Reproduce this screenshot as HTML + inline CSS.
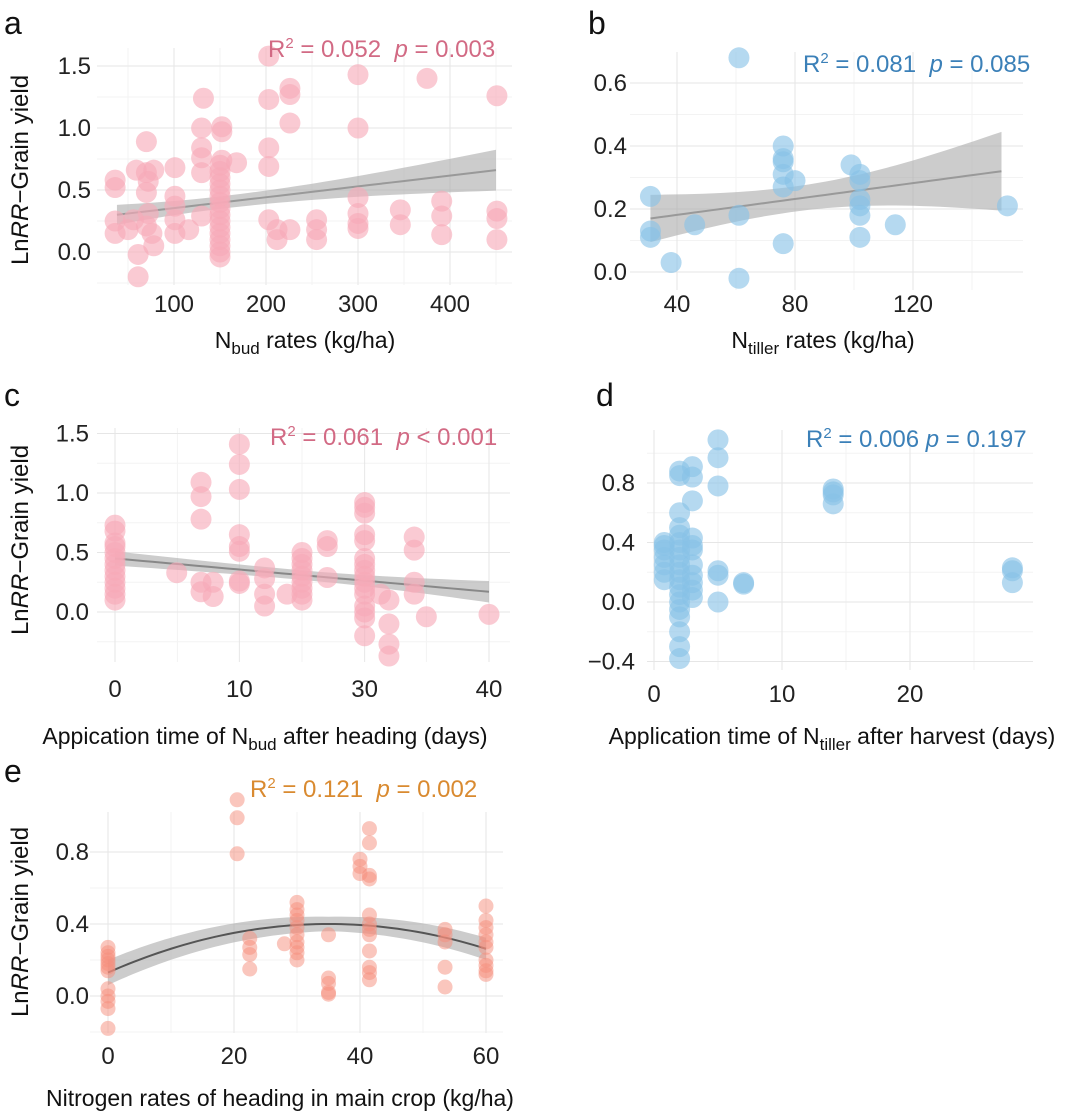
<!DOCTYPE html>
<html><head><meta charset="utf-8"><style>
body{margin:0;background:#fff;}
svg{display:block;font-family:"Liberation Sans",Arial,sans-serif;}
</style></head><body>
<svg id="fig" width="1080" height="1113" viewBox="0 0 1080 1113"></svg>
<script>
// ---- Panel a data ----
const aX=[36,36,36,36,50,61,61,59,70,70,72,78,70,72,70,76,78,56,101,101,101,101,101,116,132,130,130,130,130,130,152,152,152,168,150,150,150,150,150,150,150,150,150,150,150,150,150,150,150,150,203,203,203,203,203,212,212,226,226,226,226,255,255,255,300,300,300,300,300,300,346,346,375,391,391,391,451,451,451,451];
const aY=[0.58,0.52,0.25,0.15,0.18,-0.02,-0.2,0.66,0.89,0.64,0.57,0.66,0.48,0.31,0.21,0.15,0.05,0.26,0.68,0.45,0.37,0.26,0.15,0.18,1.24,1.0,0.84,0.76,0.64,0.29,1.01,0.97,0.74,0.72,0.6,0.55,0.5,0.45,0.4,0.35,0.3,0.25,0.2,0.15,0.1,0.05,0.0,0.65,0.7,-0.04,1.58,1.23,0.84,0.69,0.26,0.18,0.1,1.32,1.27,1.04,0.18,0.26,0.18,0.1,1.43,1.0,0.44,0.31,0.23,0.19,0.34,0.22,1.40,0.41,0.29,0.14,1.26,0.33,0.27,0.10];
const aXTicks=[100,200,300,400];
const aYTicks=[0,0.5,1.0,1.5];
const aFit=[[38,0.30,0.22,0.38],[150,0.39,0.34,0.44],[450,0.66,0.50,0.83]];
// ---- Panel b data ----
const bX=[61,61,61,31,31,31,38,46,76,76,76,76,76,80,76,99,102,102,102,102,102,102,114,152];
const bY=[0.68,-0.02,0.18,0.24,0.13,0.11,0.03,0.15,0.40,0.36,0.35,0.31,0.27,0.29,0.09,0.34,0.31,0.29,0.23,0.21,0.18,0.11,0.15,0.21];
const bXTicks=[40,80,120];
const bYTicks=[0,0.2,0.4,0.6];
const bFit=[[31,0.17,0.10,0.25],[80,0.23,0.19,0.27],[150,0.32,0.20,0.45]];
// ---- Panel c data ----
const cX=[0,0,0,0,0,0,0,0,0,0,0,0,0,6.6,9.2,9.2,9.2,9.2,9.2,10.5,10.5,13.3,13.3,13.3,13.3,13.3,13.3,13.3,13.3,16,16,16,16,18.4,20,20,20,20,20,20,20,20,20,22.7,22.7,22.7,26.7,26.7,26.7,26.7,26.7,26.7,26.7,26.7,26.7,26.7,26.7,26.7,26.7,26.7,26.7,26.7,28.4,29.3,29.3,29.3,29.3,32,32,32,32,33.3,40];
const cY=[0.73,0.68,0.58,0.55,0.5,0.45,0.4,0.35,0.3,0.25,0.2,0.15,0.1,0.33,1.09,0.97,0.78,0.25,0.17,0.25,0.13,1.41,1.24,1.03,0.65,0.55,0.51,0.26,0.24,0.37,0.28,0.15,0.05,0.15,0.5,0.45,0.4,0.35,0.3,0.25,0.2,0.15,0.1,0.6,0.55,0.29,0.92,0.88,0.83,0.65,0.6,0.45,0.4,0.35,0.3,0.25,0.2,0.15,0.05,0,-0.05,-0.2,0.15,0.1,-0.1,-0.27,-0.37,0.63,0.52,0.25,0.15,-0.04,-0.02];
const cXTickVals=[0,13.3,26.7,40];
const cXTickLabels=["0","10","30","40"];
const cYTicks=[0,0.5,1.0,1.5];
const cFit=[[0,0.45,0.40,0.52],[20,0.31,0.27,0.35],[40,0.17,0.08,0.26]];
// ---- Panel d data ----
const dX=[0.8,0.8,0.8,0.8,0.8,0.8,0.8,2,2,2,2,2,2,2,2,2,2,2,2,2,2,2,2,2,2,2,3,3,3,3,3,3,3,3,3,3,3,5,5,5,5,5,5,7,7,14,14,14,14,28,28,28];
const dY=[0.4,0.35,0.3,0.25,0.2,0.15,0.38,0.88,0.85,0.6,0.5,0.45,0.4,0.35,0.3,0.25,0.2,0.15,0.1,0.05,0,-0.05,-0.1,-0.2,-0.3,-0.38,0.91,0.84,0.68,0.43,0.38,0.35,0.25,0.18,0.13,0.08,0.03,1.09,0.97,0.78,0.21,0.18,0.0,0.12,0.13,0.76,0.74,0.72,0.66,0.23,0.21,0.13];
const dXTicks=[0,10,20];
const dYTicks=[-0.4,0,0.4,0.8];
// ---- Panel e data ----
const eX=[0,0,0,0,0,0,0,0,0,0,0,0,20.5,20.5,20.5,22.5,22.5,22.5,22.5,28,30,30,30,30,30,30,30,30,30,30,35,35,35,35,35,40,40,40,41.5,41.5,41.5,41.5,41.5,41.5,41.5,41.5,41.5,41.5,41.5,41.5,53.5,53.5,53.5,53.5,53.5,60,60,60,60,60,60,60,60,60,60];
const eY=[0.27,0.24,0.22,0.2,0.18,0.16,0.14,0.04,0.0,-0.03,-0.07,-0.18,1.09,0.99,0.79,0.32,0.27,0.23,0.15,0.29,0.52,0.48,0.45,0.42,0.38,0.34,0.3,0.27,0.24,0.2,0.34,0.1,0.07,0.02,0.01,0.76,0.72,0.68,0.93,0.85,0.67,0.65,0.45,0.4,0.37,0.34,0.25,0.16,0.13,0.09,0.37,0.34,0.3,0.16,0.05,0.5,0.42,0.38,0.34,0.3,0.27,0.2,0.17,0.14,0.12];
const eXTicks=[0,20,40,60];
const eYTicks=[0,0.4,0.8];
const eFitPeak=[35,0.40];
const eFitK=0.00022;

const NS="http://www.w3.org/2000/svg";
const svg=document.getElementById('fig');
function mk(tag,attrs,parent){const e=document.createElementNS(NS,tag);for(const k in attrs)e.setAttribute(k,attrs[k]);(parent||svg).appendChild(e);return e;}
function lin(d0,d1,r0,r1){return v=>r0+(v-d0)*(r1-r0)/(d1-d0);}

function panel(o){
  const g=mk('g',{});
  
  
  o.xMinor.forEach(v=>{const l=mk('line',{x1:o.sx(v),x2:o.sx(v),y1:o.top,y2:o.bot,stroke:'#f3f3f3','stroke-width':1},g);});
  o.yMinor.forEach(v=>{const l=mk('line',{x1:o.left,x2:o.right,y1:o.sy(v),y2:o.sy(v),stroke:'#f3f3f3','stroke-width':1},g);});
  o.xTickVals.forEach(v=>{const l=mk('line',{x1:o.sx(v),x2:o.sx(v),y1:o.top,y2:o.bot,stroke:'#e6e6e6','stroke-width':1},g);});
  o.yTicks.forEach(v=>{const l=mk('line',{x1:o.left,x2:o.right,y1:o.sy(v),y2:o.sy(v),stroke:'#e6e6e6','stroke-width':1},g);});
  o.xTickVals.forEach((v,i)=>{const t=mk('text',{x:o.sx(v),y:o.xLabY,'text-anchor':'middle','font-size':24,fill:'#222'},g);t.textContent=o.xTickLabels[i];});
  o.yTicks.forEach(v=>{const t=mk('text',{x:o.yLabX,y:o.sy(v)+8,'text-anchor':'end','font-size':24,fill:'#222'},g);t.textContent=(v<0?'\u2212':'')+Math.abs(v).toFixed(1);});
  if(o.band){
    let up='';
    o.band.forEach((p,i)=>{up+=(i?'L':'M')+o.sx(p[0])+','+o.sy(p[2]);});
    for(let i=o.band.length-1;i>=0;i--){const p=o.band[i];up+='L'+o.sx(p[0])+','+o.sy(p[3]);}
    const b=mk('path',{d:up+'Z',fill:'#aaaaaa','fill-opacity':0.6},g);
    let ln='';o.band.forEach((p,i)=>{ln+=(i?'L':'M')+o.sx(p[0])+','+o.sy(p[1]);});
    const l=mk('path',{d:ln,fill:'none',stroke:o.lineCol,'stroke-width':2},g);
  }
  o.xs.forEach((x,i)=>{const c=mk('circle',{cx:o.sx(x),cy:o.sy(o.ys[i]),r:o.r,fill:o.col,'fill-opacity':o.op},g);});
  return g;
}
function smooth(lo,hi,f,n){const a=[];for(let i=0;i<=n;i++){const v=lo+(hi-lo)*i/n;a.push(f(v));}return a;}
function interpBand(fit){
  return smooth(fit[0][0],fit[2][0],v=>{
    const t=(v-fit[0][0])/(fit[2][0]-fit[0][0]);
    const line=fit[0][1]+(fit[2][1]-fit[0][1])*t;
    const w0=(fit[0][3]-fit[0][2])/2,wm=(fit[1][3]-fit[1][2])/2,w2=(fit[2][3]-fit[2][2])/2;
    const tm=(fit[1][0]-fit[0][0])/(fit[2][0]-fit[0][0]);
    const w=t<tm? w0+(wm-w0)*Math.sin(t/tm*Math.PI/2): wm+(w2-wm)*(1-Math.cos((t-tm)/(1-tm)*Math.PI/2));
    return [v,line,line-w,line+w];
  },40);
}
const pink='#f7a9b8', blue='#87c1e6', salmon='#f58d7c';
panel({name:'panel-a',xs:aX,ys:aY,sx:lin(100,200,174,266),sy:lin(0,1,252,128),left:97,right:512,top:48,bot:285,
  xTickVals:aXTicks,xTickLabels:aXTicks.map(String),yTicks:aYTicks,xMinor:[50,150,250,350,450],yMinor:[-0.25,0.25,0.75,1.25],
  xLabY:312,yLabX:91,band:interpBand(aFit),lineCol:'#999',col:pink,op:0.62,r:10.5});
panel({name:'panel-b',xs:bX,ys:bY,sx:lin(40,80,677,795),sy:lin(0,0.6,272,83),left:630,right:1023,top:52,bot:290,
  xTickVals:bXTicks,xTickLabels:bXTicks.map(String),yTicks:bYTicks,xMinor:[60,100,140],yMinor:[0.1,0.3,0.5],
  xLabY:312,yLabX:627,band:interpBand(bFit),lineCol:'#999',col:blue,op:0.62,r:10.5});
panel({name:'panel-c',xs:cX,ys:cY,sx:lin(0,40,115,489),sy:lin(0,1,612,493),left:97,right:510,top:428,bot:662,
  xTickVals:cXTickVals,xTickLabels:cXTickLabels,yTicks:cYTicks,xMinor:[6.67,20,33.3],yMinor:[-0.25,0.25,0.75,1.25],
  xLabY:697,yLabX:89,band:interpBand(cFit),lineCol:'#888',col:pink,op:0.62,r:10.5});
panel({name:'panel-d',xs:dX,ys:dY,sx:lin(0,10,654,782),sy:lin(0,0.8,602,483),left:647,right:1033,top:430,bot:670,
  xTickVals:dXTicks,xTickLabels:dXTicks.map(String),yTicks:dYTicks,xMinor:[5,15,25],yMinor:[-0.2,0.2,0.6,1.0],
  xLabY:702,yLabX:635,band:null,col:blue,op:0.62,r:10.5});
const eSX=lin(0,60,108,486), eSY=lin(0,0.8,996,852);
const eBand=smooth(0,60,v=>{const m=eFitPeak[1]-eFitK*(v-eFitPeak[0])*(v-eFitPeak[0]);const w=0.04+0.03*Math.abs(v-eFitPeak[0])/35;return [v,m,m-w,m+w];},60);
panel({name:'panel-e',xs:eX,ys:eY,sx:eSX,sy:eSY,left:90,right:503,top:812,bot:1033,
  xTickVals:eXTicks,xTickLabels:eXTicks.map(String),yTicks:eYTicks,xMinor:[10,30,50],yMinor:[-0.2,0.2,0.6],
  xLabY:1064,yLabX:89,band:eBand,lineCol:'#555',col:salmon,op:0.5,r:7.5});
</script>
<svg width="1080" height="1113" style="position:absolute;left:0;top:0;font-family:'Liberation Sans',Arial,sans-serif">
  <text x="4" y="34" font-size="32" fill="#111">a</text>
  <text x="588" y="34" font-size="32" fill="#111">b</text>
  <text x="4" y="406" font-size="32" fill="#111">c</text>
  <text x="596" y="406" font-size="32" fill="#111">d</text>
  <text x="4" y="782" font-size="32" fill="#111">e</text>

  <text x="268" y="57" font-size="24" fill="#d26a84">R<tspan font-size="15" dy="-9">2</tspan><tspan dy="9"> = 0.052&#160;&#160;</tspan><tspan font-style="italic">p</tspan> = 0.003</text>
  <text x="803" y="72" font-size="24" fill="#3b80b8">R<tspan font-size="15" dy="-9">2</tspan><tspan dy="9"> = 0.081&#160;&#160;</tspan><tspan font-style="italic">p</tspan> = 0.085</text>
  <text x="270" y="445" font-size="24" fill="#d26a84">R<tspan font-size="15" dy="-9">2</tspan><tspan dy="9"> = 0.061&#160;&#160;</tspan><tspan font-style="italic">p</tspan> &lt; 0.001</text>
  <text x="806" y="447" font-size="24" fill="#3b80b8">R<tspan font-size="15" dy="-9">2</tspan><tspan dy="9"> = 0.006 </tspan><tspan font-style="italic">p</tspan> = 0.197</text>
  <text x="250" y="797" font-size="24" fill="#d98a30">R<tspan font-size="15" dy="-9">2</tspan><tspan dy="9"> = 0.121&#160;&#160;</tspan><tspan font-style="italic">p</tspan> = 0.002</text>

  <text x="305" y="348" font-size="23" fill="#111" text-anchor="middle">N<tspan font-size="17" dy="6">bud</tspan><tspan dy="-6"> rates (kg/ha)</tspan></text>
  <text x="823" y="348" font-size="23" fill="#111" text-anchor="middle">N<tspan font-size="17" dy="6">tiller</tspan><tspan dy="-6"> rates (kg/ha)</tspan></text>
  <text x="265" y="744" font-size="23" fill="#111" text-anchor="middle">Appication time of N<tspan font-size="17" dy="6">bud</tspan><tspan dy="-6"> after heading (days)</tspan></text>
  <text x="832" y="744" font-size="23" fill="#111" text-anchor="middle">Application time of N<tspan font-size="17" dy="6">tiller</tspan><tspan dy="-6"> after harvest (days)</tspan></text>
  <text x="280" y="1106" font-size="23" fill="#111" text-anchor="middle">Nitrogen rates of heading in main crop (kg/ha)</text>

  <text transform="translate(28,170) rotate(-90)" font-size="24" fill="#111" text-anchor="middle">Ln<tspan font-style="italic">RR</tspan>−Grain yield</text>
  <text transform="translate(28,540) rotate(-90)" font-size="24" fill="#111" text-anchor="middle">Ln<tspan font-style="italic">RR</tspan>−Grain yield</text>
  <text transform="translate(28,922) rotate(-90)" font-size="24" fill="#111" text-anchor="middle">Ln<tspan font-style="italic">RR</tspan>−Grain yield</text>
</svg>
</body></html>
